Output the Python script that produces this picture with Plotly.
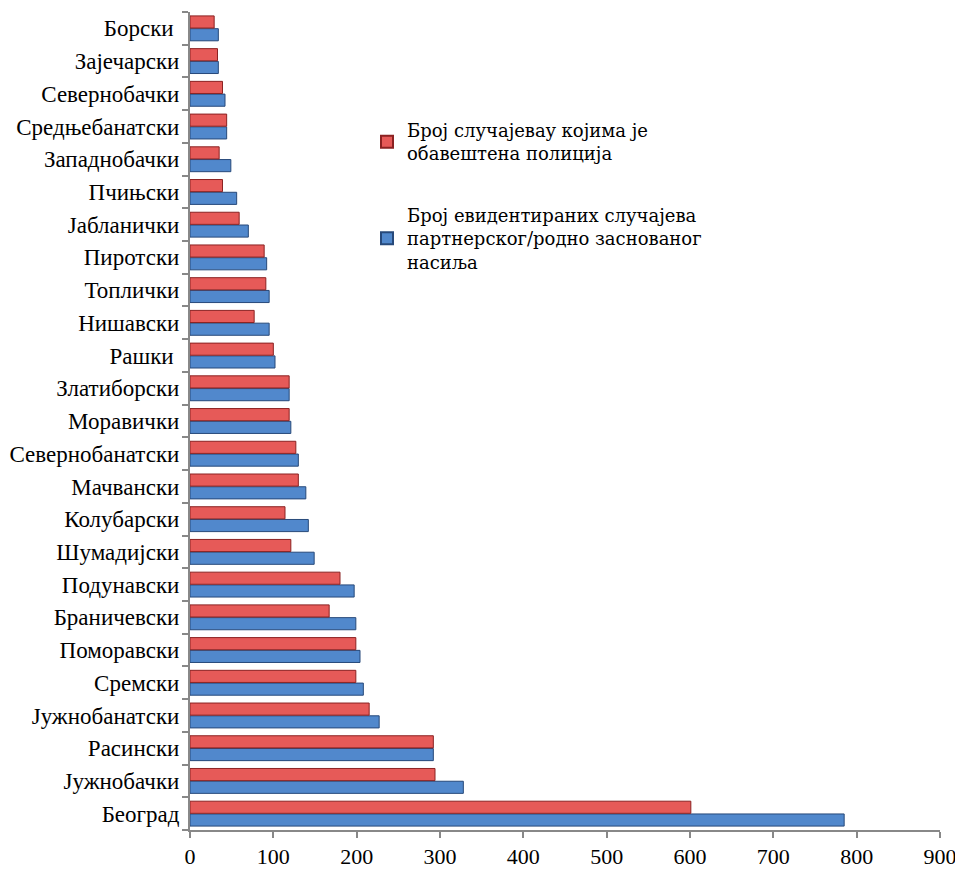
import plotly.graph_objects as go

regions = ["Београд", "Јужнобачки", "Расински", "Јужнобанатски", "Сремски", "Поморавски",
           "Браничевски", "Подунавски", "Шумадијски", "Колубарски", "Мачвански",
           "Севернобанатски", "Моравички", "Златиборски", "Рашки ", "Нишавски", "Топлички",
           "Пиротски", "Јабланички", "Пчињски", "Западнобачки", "Средњебанатски",
           "Севернобачки", "Зајечарски", "Борски "]

police = [601, 294, 292, 215, 199, 199, 167, 180, 121, 114, 130, 127, 119, 119, 100, 77,
          91, 89, 59, 39, 35, 44, 39, 33, 29]
recorded = [785, 328, 292, 227, 208, 204, 199, 197, 149, 142, 139, 130, 121, 119, 102, 95,
            95, 92, 70, 56, 49, 44, 42, 34, 34]

name_police = "Број случајеваy којима је<br>обавештена полиција"
name_recorded = "Број евидентираних случајева<br>партнерског/родно заснованог<br>насиља"

FONT = "Liberation Serif"

fig = go.Figure()
fig.add_trace(go.Bar(
    y=regions, x=recorded, orientation="h", name=name_recorded,
    marker=dict(color="#5188CC", line=dict(color="#27497A", width=1)),
    legendrank=2, legendgroup="b",
))
fig.add_trace(go.Bar(
    y=regions, x=police, orientation="h", name=name_police,
    marker=dict(color="#E65A58", line=dict(color="#8B2222", width=1)),
    legendrank=1, legendgroup="a",
))

fig.update_layout(
    width=955, height=861,
    margin=dict(l=182, r=23, t=4, b=39),
    paper_bgcolor="white", plot_bgcolor="white",
    barmode="group", bargap=0.22, bargroupgap=0.05,
    font=dict(family=FONT, size=22, color="black"),
    showlegend=True,
    legend=dict(x=0.236, y=0.878, xanchor="left", yanchor="top",
                font=dict(family="DejaVu Serif", size=18, color="black"),
                tracegroupgap=35, itemsizing="constant", itemwidth=30,
                bgcolor="rgba(0,0,0,0)"),
    xaxis=dict(range=[0, 900], dtick=100, showgrid=False, zeroline=False,
               showline=True, linecolor="#888888", linewidth=2,
               ticks="outside", ticklen=6, tickcolor="#888888", tickwidth=2,
               tickfont=dict(family=FONT, size=22), automargin=False),
    yaxis=dict(type="category", categoryorder="array", categoryarray=regions,
               showgrid=False, showline=True, linecolor="#888888", linewidth=2,
               ticks="outside", ticklen=6, tickcolor="#888888", tickwidth=2,
               tickson="boundaries", ticklabelstandoff=4, automargin=False,
               tickfont=dict(family=FONT, size=23)),
)

fig.write_html("out.html")
